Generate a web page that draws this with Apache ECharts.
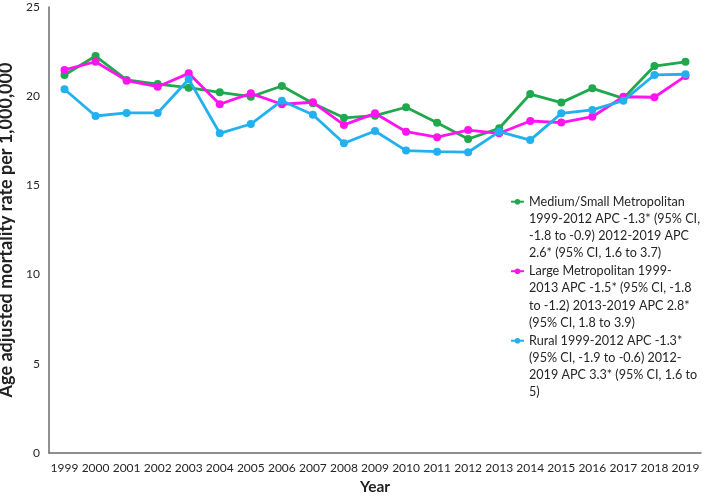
<!DOCTYPE html>
<html>
<head>
<meta charset="utf-8">
<script src="https://cdn.jsdelivr.net/npm/echarts@6/dist/echarts.min.js"></script>
<style>html,body{margin:0;padding:0;background:#fff;}#c{width:709px;height:496px;}</style>
</head>
<body>
<div id="c"></div>
<script>
const years = ['1999','2000','2001','2002','2003','2004','2005','2006','2007','2008','2009','2010','2011','2012','2013','2014','2015','2016','2017','2018','2019'];
const mediumSmall = [21.19,22.25,20.91,20.68,20.48,20.22,19.97,20.57,19.6,18.79,18.91,19.38,18.51,17.6,18.2,20.12,19.64,20.44,19.88,21.69,21.93];
const largeMetro = [21.47,21.93,20.87,20.53,21.28,19.55,20.16,19.55,19.66,18.39,19.04,18.01,17.7,18.1,17.92,18.61,18.52,18.85,19.97,19.94,21.13];
const rural = [20.39,18.89,19.06,19.06,20.95,17.92,18.44,19.75,18.96,17.36,18.05,16.95,16.89,16.86,18.01,17.54,19.04,19.23,19.75,21.19,21.23];
const names = [
  'Medium/Small Metropolitan\n1999-2012 APC -1.3* (95% CI,\n-1.8 to -0.9) 2012-2019 APC\n2.6* (95% CI, 1.6 to 3.7)',
  'Large Metropolitan 1999-\n2013 APC -1.5* (95% CI, -1.8\nto -1.2) 2013-2019 APC 2.8*\n(95% CI, 1.8 to 3.9)',
  'Rural 1999-2012 APC -1.3*\n(95% CI, -1.9 to -0.6) 2012-\n2019 APC 3.3* (95% CI, 1.6 to\n5)'
];
const colors = ['#1fa84c', '#ff14f0', '#22b0ef'];
const FONT = 'Lato';
const LH = 17.2;
const chart = echarts.init(document.getElementById('c'));
const mk = (i, data) => ({
  name: names[i], type: 'line', data: data,
  symbol: 'circle', symbolSize: 8,
  lineStyle: { width: 2.8, color: colors[i] },
  itemStyle: { color: colors[i] },
  z: 2 + i
});
chart.setOption({
  animation: false,
  grid: { left: 49, right: 8, top: 7, bottom: 43, containLabel: false, outerBoundsMode: 'none' },
  legend: {
    orient: 'vertical', left: 510, top: 141.5, padding: 0,
    itemWidth: 13, itemHeight: 7, itemGap: 69.5 - 7 * LH,
    formatter: (n) => '\n\n\n' + n,
    textStyle: { fontFamily: FONT, fontSize: 12.6, color: '#262626', lineHeight: LH },
    data: names
  },
  xAxis: {
    type: 'category', data: years, boundaryGap: true,
    axisLine: { lineStyle: { color: '#6b6b6b', width: 1.5 } },
    axisTick: { show: false },
    axisLabel: { fontFamily: FONT, fontSize: 12, color: '#262626', margin: 9, interval: 0 },
    name: 'Year', nameLocation: 'middle', nameGap: 26,
    nameTextStyle: { fontFamily: FONT, fontSize: 15.5, fontWeight: 'bold', color: '#222' }
  },
  yAxis: {
    type: 'value', min: 0, max: 25, interval: 5,
    axisLine: { show: true, lineStyle: { color: '#6b6b6b', width: 1.5 } },
    axisTick: { show: false },
    splitLine: { show: false },
    axisLabel: { fontFamily: FONT, fontSize: 12, color: '#262626', margin: 9 },
    name: 'Age adjusted mortality rate per 1,000,000', nameLocation: 'middle', nameGap: 24,
    nameTextStyle: { fontFamily: FONT, fontSize: 18, fontWeight: 'bold', color: '#222' }
  },
  series: [mk(0, mediumSmall), mk(1, largeMetro), mk(2, rural)]
});
</script>
</body>
</html>
